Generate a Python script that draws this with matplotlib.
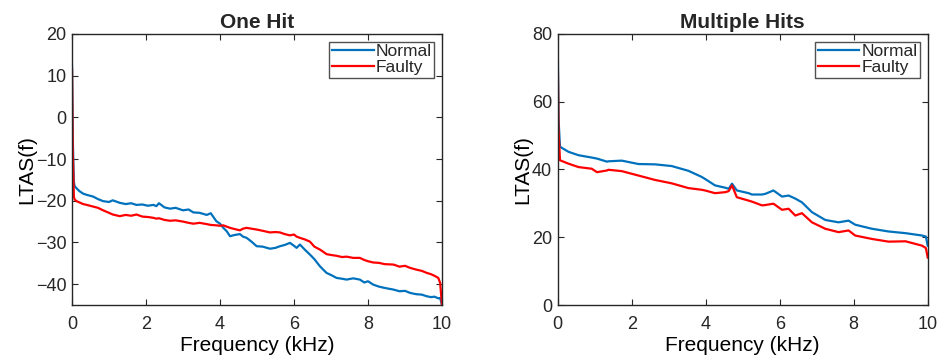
import matplotlib.pyplot as plt

plt.rcParams['font.family'] = ['Liberation Sans', 'DejaVu Sans']
plt.rcParams['text.color'] = '#262626'

# One Hit (kHz, LTAS)
one_freq = [0.0, 0.02, 0.05, 0.07, 0.12, 0.2, 0.3, 0.4, 0.57, 0.7, 0.84, 1.0, 1.1, 1.29, 1.45, 1.6, 1.74, 1.9, 2.05,
            2.2, 2.28, 2.35, 2.5, 2.65, 2.8, 3.0, 3.15, 3.28, 3.45, 3.64, 3.75, 3.9, 4.0, 4.09, 4.18, 4.27, 4.4, 4.54,
            4.62, 4.72, 4.85, 4.99, 5.15, 5.35, 5.5, 5.62, 5.75, 5.89, 6.0, 6.07, 6.16, 6.3, 6.43, 6.55, 6.7, 6.8,
            6.88, 7.0, 7.15, 7.3, 7.42, 7.6, 7.78, 7.9, 8.0, 8.14, 8.3, 8.45, 8.69, 8.85, 9.0, 9.14, 9.3, 9.45, 9.59,
            9.7, 9.8, 9.9, 9.95, 10.0]
one_normal = [12.2, -5.0, -15.5, -16.5, -17.0, -17.7, -18.3, -18.6, -19.0, -19.6, -20.1, -20.3, -19.9, -20.5, -20.8,
              -20.6, -21.0, -20.9, -21.2, -21.0, -21.3, -20.6, -21.6, -21.9, -21.7, -22.3, -22.1, -22.8, -22.9,
              -23.4, -23.0, -24.9, -25.5, -26.5, -27.3, -28.5, -28.2, -28.0, -28.6, -28.9, -29.8, -30.9, -31.0,
              -31.5, -31.3, -30.9, -30.6, -30.1, -30.8, -31.3, -30.5, -31.8, -32.9, -34.0, -35.7, -36.6, -37.3,
              -37.8, -38.5, -38.7, -38.9, -38.6, -38.9, -39.6, -39.3, -40.1, -40.6, -40.9, -41.3, -41.7, -41.6,
              -42.1, -42.4, -42.5, -42.9, -43.1, -43.0, -43.4, -43.3, -45.0]
one_faulty = [11.4, -8.0, -19.0, -19.7, -20.1, -20.4, -20.8, -21.0, -21.4, -21.7, -22.3, -22.9, -23.3, -23.7, -23.4,
              -23.6, -23.3, -23.8, -23.9, -24.1, -24.3, -24.2, -24.6, -24.8, -24.7, -25.0, -25.3, -25.5, -25.3,
              -25.6, -25.8, -25.9, -26.0, -25.9, -26.2, -26.5, -26.8, -27.1, -26.7, -26.5, -26.7, -26.9, -27.2,
              -27.6, -27.5, -27.6, -28.0, -28.3, -28.1, -28.6, -28.9, -29.3, -29.8, -31.0, -31.7, -32.3, -32.8,
              -33.0, -33.2, -33.5, -33.4, -33.7, -33.7, -34.2, -34.5, -34.8, -34.9, -35.2, -35.3, -35.8, -35.6,
              -36.1, -36.5, -36.8, -37.3, -37.6, -38.0, -38.5, -39.7, -45.0]

# Multiple Hits
multi_freq = [0.0, 0.02, 0.06, 0.29, 0.56, 0.92, 1.06, 1.33, 1.37, 1.73, 2.18, 2.63, 3.08, 3.53, 3.89, 3.98, 4.25,
              4.53, 4.62, 4.71, 4.84, 5.16, 5.25, 5.52, 5.61, 5.83, 6.06, 6.24, 6.42, 6.6, 6.87, 7.23, 7.59, 7.86,
              8.04, 8.49, 8.94, 9.4, 9.85, 9.95, 10.0]
multi_normal = [75.8, 55.0, 46.7, 45.2, 44.2, 43.5, 43.2, 42.3, 42.4, 42.6, 41.6, 41.5, 41.0, 39.6, 37.8, 37.2, 35.3,
                34.6, 34.3, 35.8, 33.8, 33.0, 32.6, 32.6, 32.8, 33.8, 32.0, 32.3, 31.4, 30.3, 27.4, 25.1, 24.4, 24.9,
                23.7, 22.5, 21.7, 21.2, 20.5, 20.2, 17.5]
multi_faulty = [72.8, 52.0, 42.7, 41.7, 40.7, 40.2, 39.2, 39.7, 39.9, 39.5, 38.2, 36.9, 35.9, 34.5, 34.0, 33.8, 33.0,
                33.3, 33.6, 35.3, 31.8, 30.8, 30.5, 29.4, 29.5, 29.9, 28.1, 28.4, 26.4, 27.1, 24.4, 22.5, 21.5, 22.0,
                20.5, 19.5, 18.7, 18.8, 17.5, 16.8, 14.0]

blue = '#0072BD'
red = '#FF0000'
dark = '#262626'

fig = plt.figure(figsize=(9.39, 3.64), dpi=100)
ax1 = fig.add_axes([0.0767, 0.162, 0.394, 0.745])
ax2 = fig.add_axes([0.594, 0.162, 0.394, 0.745])


def style(ax, title, ylim, yticks):
    ax.set_xlim(0, 10)
    ax.set_ylim(*ylim)
    ax.set_xticks([0, 2, 4, 6, 8, 10])
    ax.set_yticks(yticks)
    ax.tick_params(direction='in', top=True, right=True, labelsize=13, length=4, width=0.8,
                   color=dark, labelcolor=dark, pad=4)
    ax.tick_params(axis='x', pad=8)
    for s in ax.spines.values():
        s.set_linewidth(1.0)
        s.set_color(dark)
    ax.set_title(title, fontsize=15, fontweight='bold', pad=4)
    ax.set_xlabel('Frequency (kHz)', fontsize=15, labelpad=2)
    ax.set_ylabel('LTAS(f)', fontsize=15, labelpad=0)
    leg = ax.legend(loc='upper right', fontsize=12.5, handlelength=2.4, handletextpad=0.1, borderpad=0.15,
                    labelspacing=0.05, fancybox=False, borderaxespad=0.45)
    leg.get_frame().set_edgecolor(dark)
    leg.get_frame().set_linewidth(1.0)


ax1.plot(one_freq, one_normal, color=blue, lw=1.6, label='Normal')
ax1.plot(one_freq, one_faulty, color=red, lw=1.6, label='Faulty')
style(ax1, 'One Hit', (-45, 20), [-40, -30, -20, -10, 0, 10, 20])

ax2.plot(multi_freq, multi_normal, color=blue, lw=1.6, label='Normal')
ax2.plot(multi_freq, multi_faulty, color=red, lw=1.6, label='Faulty')
style(ax2, 'Multiple Hits', (0, 80), [0, 20, 40, 60, 80])

fig.savefig('out.png', dpi=100)
